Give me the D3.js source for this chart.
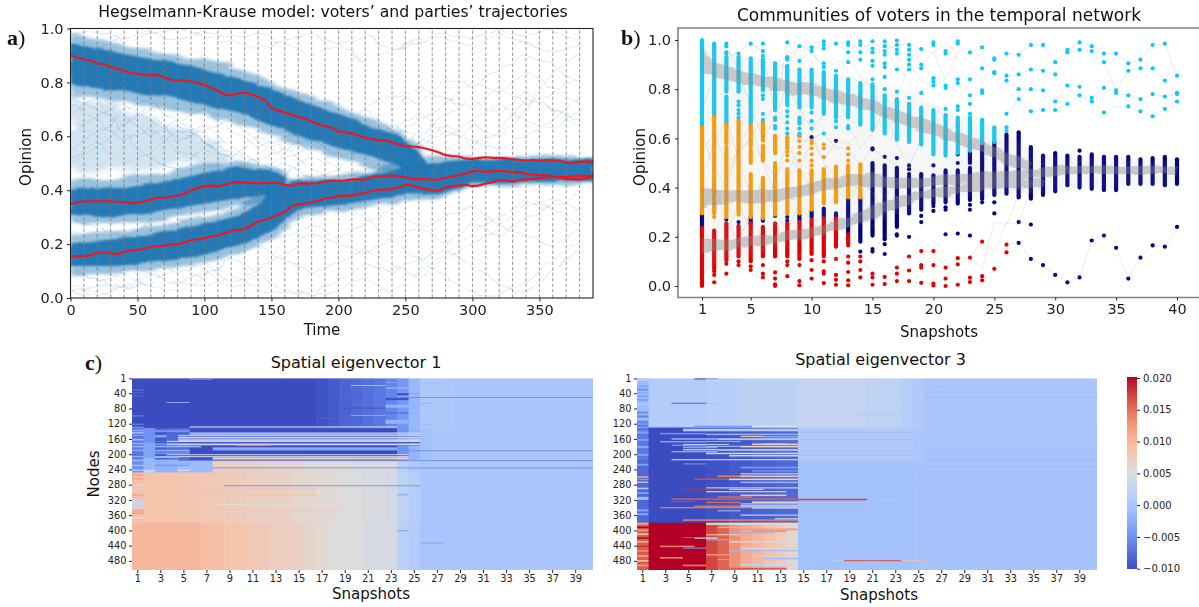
<!DOCTYPE html>
<html>
<head>
<meta charset="utf-8">
<script src="https://cdn.jsdelivr.net/npm/d3@7"></script>
<style>
  html, body { margin: 0; padding: 0; background: #fff; }
  svg { display: block; }
  text { font-family: "DejaVu Sans", sans-serif; fill: #111; }
  .panel { font-family: "Liberation Serif", serif; font-size: 22px; }
</style>
</head>
<body>
<div id="chart"></div>
<script>
/* ---------- panel a: opinions over time ---------- */
const timeTicks = [0, 50, 100, 150, 200, 250, 300, 350];
const opinionTicks = [0, 0.2, 0.4, 0.6, 0.8, 1];
const snapshotTimes = [10,20,30,40,50,60,70,80,90,100,110,120,130,140,150,160,170,180,190,200,210,220,230,240,250,260,270,280,290,300,310,320,330,340,350,360,370,380];

// party trajectories, one value every 5 time steps
const partyA = [.900,.893,.885,.882,.870,.868,.857,.851,.842,.835,.832,.829,.825,.828,.818,.810,.806,.808,.803,.798,
  .790,.780,.768,.755,.752,.760,.762,.755,.746,.735,.705,.696,.688,.680,.672,.665,.655,.645,.638,.632,
  .618,.615,.610,.602,.595,.590,.585,.585,.578,.570,.563,.562,.560,.555,.548,.540,.530,.527,.525,.517,
  .516,.520,.522,.520,.520,.518,.515,.512,.510,.512,.510,.512,.510,.510,.502,.502,.505,.507,.505];
const partyB = [.350,.355,.358,.358,.360,.358,.360,.357,.355,.352,.354,.358,.365,.372,.372,.376,.380,.386,.400,.408,
  .415,.417,.415,.420,.428,.430,.428,.427,.425,.427,.428,.427,.420,.416,.425,.426,.425,.427,.432,.436,
  .434,.436,.440,.440,.438,.448,.452,.452,.455,.452,.448,.442,.440,.442,.438,.440,.445,.452,.455,.462,
  .470,.472,.468,.470,.472,.470,.466,.467,.460,.458,.456,.455,.452,.446,.442,.440,.440,.443,.452];
const partyC = [.155,.155,.156,.158,.168,.170,.168,.162,.172,.176,.178,.184,.190,.192,.195,.198,.200,.206,.214,.218,
  .222,.228,.232,.240,.250,.252,.256,.270,.284,.290,.298,.308,.320,.340,.348,.350,.355,.360,.370,.372,
  .378,.380,.380,.385,.390,.398,.400,.402,.405,.410,.420,.418,.410,.405,.400,.398,.410,.415,.418,.420,
  .415,.418,.425,.430,.438,.436,.432,.438,.440,.442,.445,.447,.450,.450,.450,.452,.455,.452,.455];

// voter envelopes: [time, low, high]
const bandUpper = [[0,.79,.945],[25,.775,.92],[50,.76,.895],[75,.745,.875],[100,.715,.85],[125,.69,.815],[150,.64,.775],[175,.595,.725],[200,.56,.685],[225,.525,.635],[245,.49,.605],[258,.46,.55],[268,.45,.49]];
const bandMiddle = [[0,.31,.405],[25,.30,.405],[50,.31,.415],[75,.33,.435],[100,.35,.465],[125,.37,.485],[150,.38,.475],[160,.39,.45]];
const bandLower = [[0,.115,.205],[25,.115,.215],[50,.125,.225],[75,.14,.25],[100,.16,.275],[125,.195,.305],[140,.225,.345],[150,.25,.40],[165,.31,.43],[175,.335,.435],[200,.345,.435],[225,.365,.455],[250,.385,.485],[275,.385,.505],[300,.425,.515],[325,.425,.515],[350,.435,.515],[390,.435,.515]];
const haloUpper = [[0,.74,.985],[25,.74,.955],[50,.72,.925],[75,.70,.905],[100,.68,.885],[125,.65,.855],[150,.60,.80],[175,.56,.755],[200,.52,.715],[225,.48,.665],[245,.45,.625],[262,.44,.56]];
const haloMiddle = [[0,.28,.44],[25,.27,.44],[50,.28,.45],[75,.30,.47],[100,.32,.50],[125,.34,.51],[150,.36,.49],[162,.38,.46]];
const haloLower = [[0,.08,.24],[25,.09,.25],[50,.10,.26],[75,.11,.28],[100,.13,.30],[125,.16,.33],[150,.22,.43],[175,.31,.45],[200,.32,.46],[225,.34,.47],[250,.36,.51],[275,.37,.53],[300,.41,.53],[350,.42,.53],[390,.42,.53]];
const sparseLeft = [[0,.47,.75],[30,.47,.72],[60,.48,.68],[90,.49,.62],[120,.50,.56]];

// a few stray voters, one value every 20 time steps
const strayVoters = [
  [.98,.99,.95,.98,1.0,.97,.95,.92,.96,.98,.94,.97,.92,.95,.97,.93,.98,.95,.91,.94],
  [.96,.93,.97,.99,.95,.99,.97,.99,.94,.90,.93,.88,.92,.96,.99,.96,1.0,.97,.99,.96],
  [.72,.66,.58,.63,.55,.50,.47,.52,.60,.55,.60,.70,.76,.72,.82,.78,.85,.90,.86,.80],
  [.66,.60,.70,.74,.64,.58,.52,.60,.55,.62,.58,.64,.70,.78,.74,.70,.78,.72,.76,.82],
  [.55,.62,.68,.60,.66,.70,.62,.56,.60,.66,.62,.55,.60,.66,.72,.80,.76,.84,.78,.72],
  [.50,.56,.64,.70,.58,.62,.66,.58,.52,.56,.64,.70,.62,.68,.60,.66,.72,.66,.62,.70],
  [.02,.05,.03,.08,.06,.04,.09,.03,.02,.01,.07,.12,.10,.14,.18,.12,.05,.02,.10,.18],
  [.05,.02,.10,.14,.09,.13,.06,.10,.17,.24,.20,.16,.22,.14,.08,.02,.01,.06,.14,.20],
  [.10,.07,.03,.06,.12,.08,.15,.20,.14,.09,.13,.18,.12,.08,.14,.20,.27,.23,.19,.26],
  [.12,.06,.09,.04,.02,.08,.14,.10,.22,.27,.22,.28,.33,.26,.20,.28,.23,.30,.34,.38],
  [.02,.01,.04,.09,.05,.10,.04,.08,.03,.01,.03,.08,.02,.10,.16,.24,.30,.36,.33,.28],
  [.30,.26,.22,.28,.33,.25,.30,.38,.34,.30,.36,.30,.22,.26,.30,.34,.27,.34,.37,.33],
  [.68,.74,.60,.52,.48,.56,.50,.44,.54,.60,.52,.58,.64,.60,.68,.74,.68,.76,.70,.66],
  [.74,.70,.64,.72,.66,.60,.54,.50,.46,.52,.48,.42,.50,.56,.62,.58,.55,.60,.66,.74],
  [.60,.68,.72,.66,.60,.64,.56,.50,.56,.48,.44,.46,.54,.60,.54,.64,.60,.70,.84,.90],
  [.52,.58,.50,.54,.62,.58,.52,.46,.50,.44,.48,.56,.50,.58,.64,.56,.62,.74,.70,.64]
];

/* ---------- panel b: communities per snapshot ---------- */
const snapshotTicks = [1, 5, 10, 15, 20, 25, 30, 35, 40];

// solid runs [snapshot, low, high], lone voters [snapshot, value, ...]
const cyanRuns = [[1,.66,1],[2,.70,.985],[3,.79,.93],[3,.67,.77],[4,.79,.93],[5,.795,.925],[5,.665,.785],[6,.795,.92],[7,.715,.895],[8,.735,.895],[9,.725,.88],[9,.66,.685],[10,.725,.88],[11,.70,.87],[12,.685,.855],[13,.685,.84],[14,.655,.825],[15,.635,.82],[16,.62,.775],[17,.595,.76],[18,.585,.74],[19,.575,.725],[20,.535,.715],[21,.53,.695],[22,.54,.685],[23,.55,.685],[24,.58,.675],[25,.585,.645]];
const cyanDots = [[3,.985,.975,.95,.945],[4,.945,.75,.735,.715,.70,.685],[5,.985],[6,.985,.955,.935,.775,.76,.70,.675],[7,.905,.685,.675,.65,.64],[8,.99,.93,.92,.71,.69,.665,.64,.62],[9,.975,.915,.64,.62],[10,.97,.955,.705,.67,.64],[11,.995,.98,.965,.905,.89,.62],[12,.985,.875,.67,.645],[13,.99,.98,.95,.91,.65,.64],[14,.995,.98,.95,.92],[15,.995,.965,.95,.915,.895,.84],[16,.995,.975,.955,.94,.905,.89,.85,.80],[17,.998,.98,.96,.945,.88,.79],[18,.98,.96,.94,.92,.90,.88,.765],[19,.963,.90,.885,.785],[20,.99,.98,.845,.83,.815],[21,.955,.945,.815,.805,.72],[22,.995,.985,.84,.825,.73,.715],[23,.95,.84,.775,.74,.70],[24,.97,.885,.795,.785],[25,.925,.92,.87,.865],[26,.945,.855,.835,.70,.645,.63],[27,.94,.86,.80,.76],[28,.98,.88,.80,.71],[29,.98,.875,.795,.715],[30,.91,.86,.75,.715],[31,.96,.95,.815,.74],[32,.99,.96,.81,.775],[33,.975,.955,.765,.75],[34,.945,.91,.805,.705],[35,.945,.795,.785],[36,.905,.875,.775,.73],[37,.92,.885,.76,.71],[38,.98,.885,.78,.69],[39,.985,.835,.77,.72],[40,.855,.785,.78,.75]];

const orangeRuns = [[1,.295,.655],[2,.295,.70],[3,.58,.67],[3,.28,.565],[4,.29,.675],[5,.565,.665],[5,.50,.55],[5,.28,.455],[6,.59,.665],[6,.51,.57],[6,.275,.44],[7,.54,.61],[7,.29,.50],[8,.56,.605],[8,.295,.475],[9,.295,.47],[10,.31,.47],[11,.335,.475],[12,.34,.485],[13,.36,.49],[14,.36,.495]];
const orangeDots = [[2,.28],[8,.545,.53,.51],[9,.61,.59,.565,.54,.51],[10,.59,.58,.56,.535,.51,.49],[11,.575,.56,.525],[13,.56,.535,.51]];

const navyRuns = [[1,.235,.295],[5,.255,.28],[6,.265,.275],[9,.265,.29],[10,.28,.305],[11,.28,.315],[12,.28,.295],[13,.215,.355],[14,.18,.36],[15,.205,.50],[16,.19,.49],[17,.24,.48],[18,.295,.445],[19,.31,.455],[20,.335,.45],[21,.34,.47],[22,.335,.47],[23,.35,.48],[23,.50,.555],[24,.355,.58],[25,.37,.585],[26,.375,.615],[27,.36,.625],[28,.355,.565],[29,.37,.53],[30,.385,.54],[31,.41,.53],[32,.40,.525],[33,.395,.535],[34,.39,.525],[35,.39,.525],[36,.415,.525],[37,.415,.515],[38,.415,.52],[39,.41,.525],[40,.415,.515]];
const navyDots = [[3,.27],[4,.26],[7,.285],[8,.28,.265],[9,.61],[10,.605],[12,.59],[14,.14],[15,.56,.555,.15,.14],[16,.525,.17,.13],[17,.52,.21,.205],[18,.49,.475,.455,.20],[19,.285,.26],[20,.49,.325,.305],[21,.32,.31,.21],[22,.535,.50,.213],[23,.33,.31,.205],[24,.34],[25,.34,.295],[27,.26,.175],[28,.25,.11],[29,.085],[30,.045],[31,.015],[32,.55,.035],[33,.185],[34,.205],[35,.155],[36,.03],[37,.115],[38,.165],[39,.16],[40,.24]];

const redRuns = [[1,0,.235],[2,.07,.225],[3,.105,.255],[4,.12,.245],[5,.10,.255],[6,.12,.24],[7,.12,.255],[8,.12,.255],[9,.11,.26],[10,.13,.27],[11,.12,.275],[12,.16,.275],[13,.165,.21]];
const redDots = [[2,.06,.045,.015],[3,.09,.05],[4,.10,.085],[5,.08,.065],[6,.085,.05,.035],[7,.055,.03,.007,0],[8,.10,.085,.04],[9,.085,.02,.003],[10,.105,.065,.03],[11,.10,.06,.05,.012],[12,.11,.045,.025,.005],[13,.12,.095,.057,.023,.003],[14,.12,.10,.065,.035],[15,.05,.035,.005],[16,.037,.008],[17,.075,.05,.02],[18,.12,.063,.02],[19,.142,.085,.075,.013],[20,.142,.085,.01,.002],[21,.075,.03,0],[22,.113,.088,.005],[23,.115,.034,.016],[24,.18,.04,.023],[25,.07],[26,.168,.137]];

// grey flow of the temporal edges: [snapshot, low, high]
const flowUpper = [[1,.87,.97],[2,.85,.91],[4,.825,.88],[6,.805,.855],[8,.785,.835],[10,.77,.825],[12,.745,.795],[14,.725,.775],[16,.685,.735],[18,.645,.695],[20,.615,.665],[22,.575,.625],[24,.545,.595],[26,.495,.545],[28,.465,.505]];
const flowMiddle = [[1,.32,.40],[3,.335,.385],[5,.335,.385],[7,.345,.395],[9,.355,.405],[11,.385,.435],[13,.405,.455],[15,.405,.455],[17,.395,.44],[19,.40,.44],[21,.41,.45],[23,.42,.46],[25,.43,.47],[27,.43,.465],[29,.445,.48],[31,.455,.485],[35,.455,.485],[40,.455,.485]];
const flowLower = [[1,.13,.20],[3,.145,.185],[5,.16,.20],[7,.17,.21],[9,.19,.23],[11,.21,.25],[13,.24,.28],[15,.275,.325],[17,.315,.365],[19,.355,.39],[21,.365,.40],[23,.385,.42],[25,.395,.43],[27,.395,.43],[29,.405,.44]];
const flowWide = [[1,.05,1],[3,.10,.95],[6,.14,.92],[10,.20,.88],[14,.25,.85],[18,.30,.78],[22,.36,.70],[26,.37,.62],[29,.38,.53],[40,.42,.51]];

// single trajectories between lone voters, first value is the start snapshot
const edgeTraces = [
  [26,.945,.94,.98,.98,.91,.96,.99,.975,.945,.945,.905,.92,.98,.985,.855],
  [26,.855,.86,.88,.875,.86,.95,.96,.955,.91,.795,.875,.885,.885,.835,.785],
  [26,.835,.80,.80,.795,.75,.815,.81,.765,.805,.785,.775,.76,.78,.77,.78],
  [26,.70,.76,.71,.715,.715,.74,.775,.75,.705,.73,.73,.71,.69,.72,.75],
  [26,.168,.175,.11,.085,.045,.015,.035,.185,.205,.155,.03,.115,.165,.16,.24],
  [19,.012,.01,.03,.09,.113,.07,.26,.25,.37,.42],
  [14,.12,.05,.04,.075,.12,.14,.14,.075,.11,.115,.18,.137,.26,.25,.40],
  [9,.92,.99,.99,.985,.99,.96,.99,.96,.98,.98,.90,.95,.84,.95,.97,.925,.87],
  [7,.905,.93,.975,.97,.965,.985,.95,.995,.945,.96,.98,.99,.96,.95,.985,.95],
  [5,.985,.955,.70,.99,.915,.955,.875,.91,.92,.85,.80,.70,.765,.90,.835,.81,.84],
  [1,.05,.10,.05,.085,.05,.03,.10,.085,.03,.05,.12,.11,.12,.06,.13,.21,.21,.205,.18],
  [1,.55,.62,.50,.54,.60,.68,.72,.64,.58,.60,.62,.56,.56,.49,.56,.52,.49],
  [2,.28,.45,.55,.60,.51,.44,.53,.47,.59,.51,.59,.58,.62],
  [1,.72,.85,.93,.95,.985,.955,.905,.89,.975,.955,.89],
  [1,.62,.48,.40,.56,.66,.50,.38,.46,.56,.62,.50,.44,.36,.44,.40],
  [1,.45,.58,.68,.52,.36,.30,.44,.58,.48,.38,.46,.40,.34,.42,.38,.30,.36],
  [1,.30,.42,.26,.18,.30,.44,.30,.22,.34,.26,.20,.30,.24,.32,.44,.36,.42],
  [3,.98,.88,.72,.60,.68,.82,.72,.64,.70,.80,.66,.56,.62,.72,.58,.48,.60],
  [1,.26,.12,.20,.34,.22,.14,.26,.16,.12,.24,.18,.10,.18,.30,.24,.34,.30],
  [20,.70,.62,.66,.54,.62,.56,.48,.52,.44,.50,.46,.48]
];

/* ---------- panel c: heatmaps, values in units of 0.001 ---------- */
const heatSnapshots = d3.range(1, 41);
const heatSnapshotTicks = d3.range(1, 41, 2);
const nodeTicks = [1, 40, 80, 120, 160, 200, 240, 280, 320, 360, 400, 440, 480];
const colorbarTicks = [-0.01, -0.005, 0, 0.005, 0.01, 0.015, 0.02];

// blocks [fromNode, toNode, [span, value, span, value, ...]] run over all 40 snapshots
const heat1Blocks = [
  [1,132,[16,-10,1,-9.5,1,-9,1,-8.3,1,-8,1,-7.5,1,-7,1,-6,1,-4.5,1,-1.5,3,.3,12,0]],
  [132,215,[1,-7,1,-4,1,-9,1,-8,1,-8,18,-10,1,-5,1,-2,1,-.5,14,0]],
  [215,248,[1,-5,1,-2,2,-2,3,-1,4,7,4,6.2,4,5.2,4,4.5,1,1.5,1,.5,15,0]],
  [248,380,[1,9,3,8.7,2,8.5,2,8,2,7.5,2,7,2,6.8,2,6,2,5.5,2,5,2,4.5,1,4,1,2,1,1,15,0]],
  [380,504,[6,9.8,2,9.3,2,8.7,2,8,2,7.3,1,6.8,1,6.3,1,5.8,3,5,3,4.2,1,1.6,1,.8,15,0]]
];
// stripes [fromNode, toNode, fromSnapshot, toSnapshot, value]
const heat1Stripes = [
  [132,170,2,2,-5],[170,210,2,2,-3.5],[210,240,2,2,-1.5],[240,248,2,2,2.5],
  [127,130,6,23,3],[143,146,6,25,3],[146,149,6,25,1],[150,153,5,25,6],[153,155,5,25,-6],[155,159,5,25,5],[159,161,5,25,-5],[161,165,5,25,5],
  [165,168,4,25,8.5],[168,172,4,25,-9],[172,176,4,25,3],[176,178,4,25,-6],[182,190,8,23,-3],[174,177,10,12,9],
  [200,203,4,24,4],[203,205,4,24,-8],[205,208,5,24,2],[208,214,8,24,7.5],[216,218,5,24,-8],
  [216,218,25,40,-6],[190,192,25,40,-6],[235,237,8,40,-6],[50,52,25,40,-6],[282,284,9,25,-6],[282,284,6,8,2],
  [63,65,4,5,0],[2,4,6,7,-3],[105,107,17,18,-8],[19,21,20,22,1.5],[97,99,20,22,-1],[78,80,19,22,-10],
  [10,13,23,23,-4],[25,28,23,24,-1],[40,45,24,24,-10],[52,58,23,24,-9.5],[70,78,23,25,-2],[90,93,23,24,-8],[110,120,23,24,-2],
  [40,42,25,25,-4],[65,68,25,26,-2],[92,94,25,25,-3],[120,122,25,26,-2],[12,14,26,27,-1],[305,308,24,24,-3],[400,402,24,24,-5],[432,435,26,27,-3],
  [136,142,3,5,-5],[150,156,3,3,-3],[165,168,3,3,-8],[172,175,3,4,-2],[178,182,3,6,-2],[188,193,3,5,-3],[195,200,3,5,-5],
  [205,210,3,4,-1],[214,218,3,4,-2],[222,226,3,5,-2],[228,230,3,5,-6],[228,232,6,7,-1],[240,244,5,5,4],
  [30,33,1,1,-7],[38,40,1,1,-7],[46,49,1,1,-8],[98,101,1,1,-6],[120,123,1,1,-6],[128,131,1,1,-4],[136,140,1,1,-3],[142,146,1,1,0],
  [150,152,1,1,-2],[160,164,1,1,0],[170,174,1,1,-2],[178,182,1,1,-1],[188,192,1,1,-3],[205,208,1,1,-2],[214,218,1,1,-1],
  [228,231,1,1,0],[240,244,1,1,0],[252,256,1,1,12],[262,268,1,1,11],[280,283,1,1,5],[290,295,1,1,3],[305,310,1,1,11],
  [318,335,1,1,3],[338,345,1,1,3],[345,358,1,1,11],[365,370,1,1,6],
  [290,293,5,16,9],[305,308,6,16,8.5],[330,335,8,20,5.5],[345,348,7,18,8]
];

const heat2Blocks = [
  [1,130,[1,-1,5,.9,3,1.3,5,1.8,6,2.4,3,2,1,1,1,.5,15,0]],
  [130,215,[1,-7,5,-10,2,-9.5,2,-9,2,-8.5,2,-8,10,.7,1,.2,15,-.1]],
  [215,380,[1,-8,5,-10,2,-9.5,2,-9,2,-8.5,2,-8,10,-.5,16,-.2]],
  [380,504,[1,16,5,20,1,17,1,15.5,1,13,1,11,1,10,1,9,1,7.5,1,6,10,-.5,16,-.2]]
];
const heat2Stripes = [
  [140,144,15,24,-.3],[150,152,15,24,-.3],[160,163,15,24,-.4],[170,172,15,24,-.4],[178,180,15,24,-.3],[184,186,15,24,1.5],
  [190,193,15,24,-.3],[200,204,15,24,-.5],[205,208,15,24,1.2],[217,219,15,25,1],[235,237,15,24,.6],[285,287,15,25,.4],
  [175,178,4,6,-4],[180,183,5,7,0],[192,195,4,7,-1],
  [124,130,11,14,5],[125,130,6,10,-4],[133,140,5,14,.5],[144,148,3,6,-5],[146,150,7,14,-2],[152,155,10,11,9],[153,156,12,14,-1],
  [158,162,4,7,-2],[158,163,8,14,0],[166,169,3,6,-1],[166,168,7,9,1],[172,176,11,14,7],[173,176,5,8,1],[172,174,12,13,8],
  [178,181,7,9,-1],[178,182,10,14,5],[186,190,5,7,1.5],[187,191,8,14,3],[196,200,7,14,3.5],[202,206,9,14,3],[213,216,4,14,3],
  [224,227,5,6,-5],[233,237,10,14,-4],[242,246,11,14,-5],[250,253,10,14,3],[256,260,8,10,14],[256,260,10,14,8],[264,267,6,8,16],
  [264,268,9,14,6],[272,276,10,14,-2],[287,290,7,14,8],[291,295,5,7,18],[291,294,9,11,10],[297,300,7,13,3],[306,310,10,13,9],
  [311,314,8,10,14],[316,320,4,14,16],[317,321,15,20,17],[318,320,22,23,1.5],[323,326,4,5,17],[325,328,7,9,15],[324,328,11,14,6],
  [329,332,10,14,3],[335,338,6,9,14],[334,338,10,14,4],[339,342,3,10,14],[339,343,11,14,2],[347,350,8,9,-2],[358,362,10,14,-1],
  [368,372,13,14,2],[371,375,5,14,14],
  [380,386,7,8,8],[380,386,9,14,6],[390,394,8,9,11],[395,400,10,14,12],[400,404,11,13,13],[405,408,9,12,-2],[410,413,7,9,8],
  [418,422,6,7,2],[418,420,5,6,16],[423,426,7,8,-3],[428,432,9,14,4],[440,444,3,5,14],[445,448,5,6,-5],[445,450,10,14,7],
  [452,455,9,14,-1],[462,466,7,9,13],[465,468,11,13,2],[472,476,12,14,-1],[470,474,3,4,13],[475,478,8,9,-3],[490,494,5,6,14],
  [488,492,10,14,3],[495,499,11,13,1],[498,503,9,13,16],
  [380,385,1,1,11],[390,394,1,1,20],[398,402,1,1,12],[408,412,1,1,8],[418,422,1,1,20],[428,432,1,1,10],[440,444,1,1,18],
  [452,456,1,1,13],[465,470,1,1,12],[478,482,1,1,9],[490,494,1,1,11],
  [258,262,1,1,12],[265,268,1,1,14],[272,275,1,1,4],[288,292,1,1,1],[300,304,1,1,-3],[312,320,1,1,-1],[345,350,1,1,-3],[355,360,1,1,-3],
  [1,8,1,1,1],[18,24,1,1,-3],[28,33,1,1,-5],[37,41,1,1,-3],[46,50,1,1,-4],[55,60,1,1,-4],[65,72,1,1,0],[88,94,1,1,-5],[98,104,1,1,-6],
  [112,120,1,1,-6],[122,128,1,1,-7],[140,146,1,1,-4],[160,165,1,1,-4],[178,184,1,1,-3],[200,204,1,1,-3],[225,230,1,1,-4],
  [1,4,6,6,-9],[1,3,7,7,-6],[65,68,4,6,-7],[65,67,7,7,-1],[20,22,21,24,2.5],[22,24,22,24,1.5],[38,40,23,24,1.2],[95,97,20,23,.2],
  [22,23,27,27,-3],[70,72,27,28,-1],[50,52,26,40,-1.4],[190,192,26,40,-1.2],[216,218,26,40,-1.6],[233,235,26,40,-1.4],
  [478,481,19,23,16],[478,480,24,25,9],[478,480,18,18,1.5]
];

const width = 1199, height = 607;

const svg = d3.select("#chart").append("svg")
    .attr("width", width)
    .attr("height", height)
    .attr("viewBox", [0, 0, width, height]);

const defs = svg.append("defs");

/* the reference is a soft raster, so marks get a slight blur */
[["soft", "0.45"], ["heatsoft", "0.3 0.65"]].forEach(([id, s]) => {
    defs.append("filter").attr("id", id)
        .attr("x", "-5%").attr("y", "-5%").attr("width", "110%").attr("height", "110%")
      .append("feGaussianBlur").attr("stdDeviation", s);
});

/* soft uneven edges for the dense bundles of lines */
function wispFilter(id, freq, scale, blur) {
    const f = defs.append("filter").attr("id", id)
        .attr("x", "-10%").attr("y", "-20%").attr("width", "120%").attr("height", "140%")
        .attr("color-interpolation-filters", "sRGB");
    f.append("feTurbulence").attr("type", "fractalNoise").attr("baseFrequency", freq)
        .attr("numOctaves", 2).attr("seed", 4).attr("result", "n");
    f.append("feDisplacementMap").attr("in", "SourceGraphic").attr("in2", "n")
        .attr("scale", scale).attr("xChannelSelector", "R").attr("yChannelSelector", "G").attr("result", "d");
    f.append("feGaussianBlur").attr("in", "d").attr("stdDeviation", blur);
}
wispFilter("wispCore", "0.05 0.2", 5, "1.2 0.9");
wispFilter("wispHalo", "0.04 0.15", 9, "2.5 1.8");
wispFilter("wispSparse", "0.02 0.1", 30, "3 2.5");
wispFilter("wobble", "0.07 0.07", 9, "0.35");
wispFilter("wispFlow", "0.06 0.2", 6, "0.9 0.7");

function title(txt, x, y, size) {
    svg.append("text").attr("x", x).attr("y", y)
        .attr("text-anchor", "middle").attr("dominant-baseline", "central")
        .style("font-size", size + "px").text(txt);
}

function yLabel(txt, x, y, size) {
    svg.append("text").attr("transform", `translate(${x},${y}) rotate(-90)`)
        .attr("text-anchor", "middle").attr("dominant-baseline", "central")
        .style("font-size", size + "px").text(txt);
}

function panelLabel(letter, x, y) {
    const t = svg.append("text").attr("class", "panel").attr("x", x).attr("y", y);
    t.append("tspan").style("font-weight", "bold").text(letter);
    t.append("tspan").text(")");
}

function styleAxis(g, size, color) {
    g.select(".domain").remove();
    g.selectAll(".tick line").attr("stroke", color || "#222");
    g.selectAll(".tick text").style("font-size", size + "px").style("fill", "#222");
}

/* ---------- panel a ---------- */
const xA = d3.scaleLinear().domain([0, 390]).range([70.5, 593]);
const yA = d3.scaleLinear().domain([0, 1]).range([298, 28.5]);

defs.append("clipPath").attr("id", "clipA").append("rect")
    .attr("x", xA(0)).attr("y", yA(1)).attr("width", xA(390) - xA(0)).attr("height", yA(0) - yA(1));

const plotA = svg.append("g").attr("clip-path", "url(#clipA)");
const areaA = d3.area().x(d => xA(d[0])).y0(d => yA(d[1])).y1(d => yA(d[2]));
const lineA = d3.line().x((d, i) => xA(i * 20)).y(d => yA(d));
const partyLine = d3.line().x((d, i) => xA(i * 5)).y(d => yA(d));

plotA.append("path").attr("d", areaA(sparseLeft)).attr("fill", "#1f77b4").attr("opacity", 0.2).attr("filter", "url(#wispSparse)");
plotA.append("g").attr("filter", "url(#wobble)")
    .selectAll("path").data(strayVoters).join("path")
    .attr("d", lineA).attr("fill", "none").attr("stroke", "#1f77b4")
    .attr("stroke-width", 1).attr("opacity", 0.16);

plotA.append("g").attr("filter", "url(#wispHalo)")
    .selectAll("path").data([haloUpper, haloMiddle, haloLower]).join("path")
    .attr("d", areaA).attr("fill", "#1f77b4").attr("opacity", 0.45);
plotA.append("g").attr("filter", "url(#wispCore)")
    .selectAll("path").data([bandUpper, bandMiddle, bandLower]).join("path")
    .attr("d", areaA).attr("fill", "#2077b4").attr("opacity", 0.95);

plotA.selectAll(".snap").data(snapshotTimes).join("line")
    .attr("x1", d => xA(d)).attr("x2", d => xA(d))
    .attr("y1", yA(0)).attr("y2", yA(1))
    .attr("stroke", "#777").attr("stroke-width", 1).attr("stroke-dasharray", "3.5,2").attr("opacity", 0.75);

plotA.selectAll(".party").data([partyA, partyB, partyC]).join("path")
    .attr("d", partyLine).attr("fill", "none").attr("stroke", "#ee1520").attr("stroke-width", 2.1);

svg.append("rect").attr("x", xA(0)).attr("y", yA(1))
    .attr("width", xA(390) - xA(0)).attr("height", yA(0) - yA(1))
    .attr("fill", "none").attr("stroke", "#222").attr("stroke-width", 1.1);

svg.append("g").attr("transform", `translate(0,${yA(0)})`)
    .call(d3.axisBottom(xA).tickValues(timeTicks).tickSize(3.5).tickPadding(3.5).tickFormat(d3.format("d")))
    .call(g => styleAxis(g, 14.5));
svg.append("g").attr("transform", `translate(${xA(0)},0)`)
    .call(d3.axisLeft(yA).tickValues(opinionTicks).tickSize(3.5).tickPadding(3.5).tickFormat(d3.format(".1f")))
    .call(g => styleAxis(g, 14.5));

title("Hegselmann-Krause model: voters’ and parties’ trajectories", 333, 11, 15.7);
title("Time", 322, 330, 15);
yLabel("Opinion", 25.5, 157, 15);
panelLabel("a", 7, 45);

/* ---------- panel b ---------- */
const xB = d3.scaleLinear().domain([1, 40]).range([702, 1177]);
const yB = d3.scaleLinear().domain([0, 1]).range([286, 40]);

const plotB = svg.append("g");
const communities = [
    { runs: navyRuns, dots: navyDots, color: "#00007f" },
    { runs: orangeRuns, dots: orangeDots, color: "#ff9b05" },
    { runs: redRuns, dots: redDots, color: "#e00006" },
    { runs: cyanRuns, dots: cyanDots, color: "#08cbf7" }
];
const areaB = d3.area().x(d => xB(d[0])).y0(d => yB(d[1])).y1(d => yB(d[2]));

communities.forEach(c => {
    const group = plotB.append("g").attr("filter", "url(#soft)");
    group.selectAll("line").data(c.runs).join("line")
        .attr("x1", d => xB(d[0])).attr("x2", d => xB(d[0]))
        .attr("y1", d => yB(d[1])).attr("y2", d => yB(d[2]))
        .attr("stroke", c.color).attr("stroke-width", 4.2).attr("stroke-linecap", "round");
    const pts = c.dots.flatMap(d => d.slice(1).map(v => [d[0], v]));
    group.selectAll("circle").data(pts).join("circle")
        .attr("cx", d => xB(d[0])).attr("cy", d => yB(d[1])).attr("r", 2.1)
        .attr("fill", c.color);
});

plotB.append("path").attr("d", areaB(flowWide)).attr("fill", "#aaa").attr("opacity", 0.1).attr("filter", "url(#wispHalo)");
plotB.append("g").attr("filter", "url(#wispFlow)")
    .selectAll("path").data([flowUpper, flowMiddle, flowLower]).join("path")
    .attr("d", areaB).attr("fill", "#8a8a8a").attr("opacity", 0.42);

plotB.selectAll(".trace").data(edgeTraces).join("path")
    .attr("d", d => d3.line().x((v, i) => xB(d[0] + i)).y(v => yB(v))(d.slice(1)))
    .attr("fill", "none").attr("stroke", "#999").attr("stroke-width", 0.6).attr("opacity", 0.32);

// open frame running off the right edge
svg.append("path")
    .attr("d", d3.line()([[width, 28], [678, 28], [678, 297.5], [width, 297.5]]))
    .attr("fill", "none").attr("stroke", "#808080").attr("stroke-width", 1.6);

svg.append("g").attr("transform", "translate(0,297.5)")
    .call(d3.axisBottom(xB).tickValues(snapshotTicks).tickSize(3).tickPadding(3.5).tickFormat(d3.format("d")))
    .call(g => styleAxis(g, 14.5));
svg.append("g").attr("transform", "translate(678,0)")
    .call(d3.axisLeft(yB).tickValues(opinionTicks).tickSize(3).tickPadding(4).tickFormat(d3.format(".1f")))
    .call(g => styleAxis(g, 14.5));

title("Communities of voters in the temporal network", 939, 15, 17);
title("Snapshots", 939, 332, 15);
yLabel("Opinion", 640, 157, 15);
panelLabel("b", 621, 45);

/* ---------- panel c ---------- */
const coolwarmStops = ["#3b4cc0", "#6282ea", "#8db0fe", "#b7cff9", "#dddcdc", "#f5c4ac", "#f49a7b", "#d95847", "#b40426"];
const color = d3.scaleLinear()
    .domain(coolwarmStops.map((c, i) => -10 + 30 * i / (coolwarmStops.length - 1)))
    .range(coolwarmStops)
    .clamp(true);

function drawHeat(left, right, blocks, stripes, id) {
    const x = d3.scaleBand().domain(heatSnapshots).range([left, right]);
    const y = d3.scaleLinear().domain([0, 504]).range([378, 570]);

    defs.append("clipPath").attr("id", id).append("rect")
        .attr("x", left).attr("y", 378).attr("width", right - left).attr("height", 192);

    const g = svg.append("g").attr("clip-path", `url(#${id})`).append("g").attr("filter", "url(#heatsoft)");

    blocks.forEach(b => {
        let col = 1;
        for (let i = 0; i < b[2].length; i += 2) {
            g.append("rect")
                .attr("x", x(col)).attr("width", x.bandwidth() * b[2][i] + 0.5)
                .attr("y", y(b[0])).attr("height", y(b[1]) - y(b[0]) + 0.5)
                .attr("fill", color(b[2][i + 1]));
            col += b[2][i];
        }
    });

    g.selectAll(".stripe").data(stripes).join("rect")
        .attr("x", d => x(d[2]))
        .attr("width", d => x(d[3]) + x.bandwidth() - x(d[2]))
        .attr("y", d => y(d[0]))
        .attr("height", d => y(d[1]) - y(d[0]))
        .attr("fill", d => color(d[4]));

    svg.append("g").attr("transform", "translate(0,570)")
        .call(d3.axisBottom(x).tickValues(heatSnapshotTicks).tickSize(3).tickPadding(2.5))
        .call(g => styleAxis(g, 9.8));
    svg.append("g").attr("transform", `translate(${left},0)`)
        .call(d3.axisLeft(y).tickValues(nodeTicks).tickSize(3).tickPadding(2.5))
        .call(g => styleAxis(g, 9.8));
}

drawHeat(132, 593, heat1Blocks, heat1Stripes, "clipH1");
drawHeat(637, 1097, heat2Blocks, heat2Stripes, "clipH2");

title("Spatial eigenvector 1", 356, 362, 16);
title("Snapshots", 371, 594, 15);
yLabel("Nodes", 94, 474, 15);
panelLabel("c", 85, 370);
title("Spatial eigenvector 3", 880.5, 359, 16);
title("Snapshots", 879, 595, 15);

// colorbar
const yBar = d3.scaleLinear().domain([-0.01, 0.02]).range([568.7, 378]);
const grad = defs.append("linearGradient").attr("id", "coolwarm")
    .attr("x1", 0).attr("x2", 0).attr("y1", 1).attr("y2", 0);
coolwarmStops.forEach((c, i) => {
    grad.append("stop").attr("offset", i / (coolwarmStops.length - 1)).attr("stop-color", c);
});
svg.append("rect").attr("x", 1127).attr("y", 377).attr("width", 10).attr("height", 192)
    .attr("fill", "url(#coolwarm)");
svg.append("g").attr("transform", "translate(1137,0)")
    .call(d3.axisRight(yBar).tickValues(colorbarTicks).tickSize(3).tickPadding(3)
        .tickFormat(d => d3.format(".3f")(d).replace("-", "\u2212")))
    .call(g => styleAxis(g, 10));
</script>
</body>
</html>
